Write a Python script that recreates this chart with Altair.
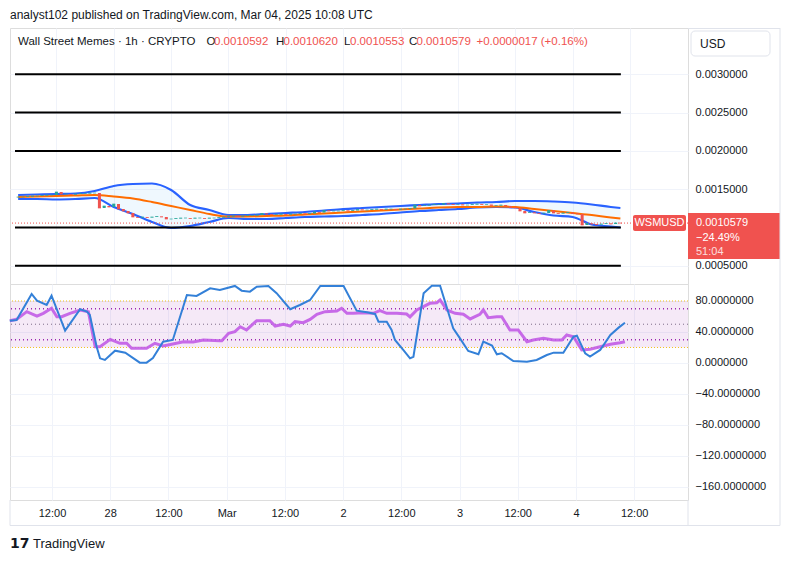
import altair as alt
import pandas as pd

# ---------------- text content ----------------
publisher_line = "analyst102 published on TradingView.com, Mar 04, 2025 10:08 UTC"
symbol_line = "Wall Street Memes · 1h · CRYPTO"
ohlc_labels = ["O", "H", "L", "C"]
ohlc_values = ["0.0010592", "0.0010620", "0.0010553", "0.0010579"]
change_text = "+0.0000017 (+0.16%)"
currency = "USD"
ticker = "WSMUSD"
last_price = 0.0010579
last_price_text = "0.0010579"
change_pct_text = "−24.49%"
countdown_text = "51:04"
footer_text = "TradingView"

# ---------------- price pane data (hours since Feb 27 00:00) ----------------
band_hours = [4, 8, 12, 16, 20, 24, 28, 32, 36, 40, 44, 48, 52, 56, 60, 64, 68, 72, 76, 80,
              84, 88, 92, 96, 100, 104, 108, 112, 116, 120, 124, 128, 130]
bb_upper = [0.0014243, 0.0014308, 0.0014373, 0.0014439, 0.0014765, 0.0015418, 0.0015679, 0.0015744,
            0.0014896, 0.0012937, 0.0012285, 0.0011632, 0.0011632, 0.0011762, 0.0011893, 0.0012024,
            0.0012219, 0.0012415, 0.0012546, 0.0012676, 0.0012807, 0.0012937, 0.0013068, 0.0013133,
            0.0013264, 0.0013329, 0.0013460, 0.0013460, 0.0013394, 0.0013264, 0.0013003, 0.0012676,
            0.0012546]
bb_middle = [0.0013982, 0.0014047, 0.0014112, 0.0014178, 0.0014243, 0.0014047, 0.0013786, 0.0013329,
             0.0012807, 0.0012285, 0.0011762, 0.0011436, 0.0011436, 0.0011501, 0.0011567, 0.0011697,
             0.0011828, 0.0011958, 0.0012089, 0.0012219, 0.0012350, 0.0012480, 0.0012611, 0.0012676,
             0.0012676, 0.0012742, 0.0012676, 0.0012415, 0.0012154, 0.0011893, 0.0011632, 0.0011306,
             0.0011175]
bb_lower = [0.0013721, 0.0013721, 0.0013655, 0.0013721, 0.0013851, 0.0012676, 0.0011762, 0.0010718,
            0.0009935, 0.0010196, 0.0010718, 0.0011240, 0.0011110, 0.0011110, 0.0011240, 0.0011371,
            0.0011436, 0.0011501, 0.0011632, 0.0011762, 0.0011958, 0.0012154, 0.0012285, 0.0012415,
            0.0012611, 0.0012676, 0.0012611, 0.0012024, 0.0011567, 0.0011371, 0.0010392, 0.0010131,
            0.0010000]

first_candle_hour = 4
first_open = 0.0013950
closes = [0.0013982, 0.0013982, 0.0014047, 0.0014112, 0.0014112, 0.0014178, 0.0014243, 0.0014243,
          0.0014635, 0.0014373, 0.0014373, 0.0014308, 0.0014373, 0.0014439, 0.0014439, 0.0014504, 0.0014504,
          0.0012546, 0.0012807, 0.0012676, 0.0013068, 0.0012415, 0.0012154, 0.0011893, 0.0011371,
          0.0011306, 0.0011371, 0.0011306, 0.0011371, 0.0011436, 0.0011371, 0.0011110, 0.0011110,
          0.0011175, 0.0011240, 0.0011240, 0.0011175, 0.0011240, 0.0011240, 0.0011175, 0.0011240,
          0.0011240, 0.0011306, 0.0011371, 0.0011436, 0.0011501, 0.0011436, 0.0011501, 0.0011567,
          0.0011567, 0.0011632, 0.0011828, 0.0011762, 0.0011697, 0.0011697, 0.0011762, 0.0011697,
          0.0011762, 0.0011762, 0.0011828, 0.0011762, 0.0011828, 0.0012024, 0.0011958, 0.0012219,
          0.0012154, 0.0012154, 0.0012154, 0.0012219, 0.0012154, 0.0012219, 0.0012350, 0.0012285,
          0.0012285, 0.0012350, 0.0012415, 0.0012350, 0.0012415, 0.0012415, 0.0012350, 0.0012415,
          0.0012415, 0.0012480, 0.0012937, 0.0012807, 0.0012872, 0.0012937, 0.0013003, 0.0013003,
          0.0013133, 0.0013068, 0.0013003, 0.0013003, 0.0012937, 0.0012937, 0.0013003, 0.0013068,
          0.0013003, 0.0013003, 0.0012872, 0.0012872, 0.0012937, 0.0012807, 0.0012611, 0.0012546,
          0.0012154, 0.0011893, 0.0011958, 0.0011893, 0.0011828, 0.0011893, 0.0012219, 0.0011893,
          0.0011828, 0.0011893, 0.0011958, 0.0011828, 0.0011762, 0.0010326, 0.0010522, 0.0010457,
          0.0010392, 0.0010457, 0.0010522, 0.0010457, 0.0010592, 0.0010579]

drawn_levels = [0.0030, 0.0025, 0.0020, 0.0010, 0.0005]
drawn_levels_end_hour = 130.1

# ---------------- oscillator pane data ----------------
stoch_hours = [3.3, 4.7, 7.8, 8.9, 10.9, 11.9, 14.7, 17.8, 19.2, 19.8, 21.2, 21.9, 22.9, 25.0, 27.1,
               30.1, 31.5, 32.8, 34.9, 36.9, 39.8, 41.8, 44.6, 46.6, 49.7, 51.1, 52.8, 54.2, 56.6,
               58.3, 61.1, 63.1, 65.2, 67.3, 72.1, 74.8, 76.9, 78.6, 79.3, 81.0, 82.0, 82.7, 84.4,
               85.8, 86.5, 88.6, 90.3, 92.0, 94.7, 96.1, 97.8, 99.9, 100.9, 102.7, 103.7, 104.7,
               107.1, 109.9, 111.9, 114.0, 115.4, 117.4, 119.5, 120.2, 121.9, 122.9, 125.0, 127.1,
               128.8, 130.1]
stoch_vals = [54.6, 55.5, 89.0, 80.4, 74.8, 86.8, 41.7, 69.3, 66.2, 62.0, 21.0, 6.0, 3.9, 15.9, 13.3,
              0.4, 0.4, 6.5, 27.5, 29.7, 87.7, 86.5, 96.3, 94.2, 99.4, 93.3, 92.0, 98.5, 99.4,
              90.0, 69.3, 74.8, 81.3, 99.4, 99.4, 67.5, 65.4, 63.2, 53.3, 53.3, 42.6, 29.7, 16.8,
              6.0, 8.0, 90.0, 99.7, 99.7, 44.8, 31.8, 15.5, 11.2, 27.5, 22.4, 11.2, 12.5,
              2.6, 1.7, 3.9, 10.3, 13.3, 13.3, 33.9, 35.2, 12.5, 8.2, 16.8, 36.1,
              45.6, 52.0]
rsi_hours = [3.3, 4.7, 6.8, 8.9, 10.2, 11.9, 13.0, 14.0, 15.7, 17.8, 19.5, 20.9, 21.9, 24.0, 26.0,
             27.4, 28.4, 31.5, 33.2, 34.9, 36.9, 39.1, 41.1, 43.2, 46.6, 47.0, 48.4, 49.7, 50.8,
             52.1, 54.2, 56.9, 58.0, 59.7, 61.1, 62.1, 63.8, 65.2, 66.6, 68.3, 70.7, 71.7, 72.8,
             74.1, 76.2, 78.2, 79.6, 81.0, 83.1, 85.1, 85.8, 87.2, 89.9, 91.3, 92.0, 93.4, 95.1,
             96.8, 98.2, 100.2, 100.9, 101.9, 103.7, 104.7, 106.4, 108.1, 109.9, 111.2, 113.3,
             115.4, 117.1, 118.1, 119.5, 121.2, 122.9, 125.0, 127.1, 129.1, 130.1]
rsi_vals = [54.6, 56.3, 66.2, 60.6, 64.1, 70.6, 59.7, 59.7, 64.1, 68.4, 66.2, 21.0, 21.0, 30.5, 25.4,
            25.4, 18.9, 18.9, 25.4, 21.9, 24.5, 27.5, 27.0, 29.7, 28.8, 28.8, 38.3, 40.4, 46.8,
            42.6, 54.6, 54.6, 47.7, 49.9, 47.7, 53.3, 52.0, 56.3, 62.8, 66.2, 67.1, 70.6, 64.1,
            64.1, 64.9, 64.1, 67.5, 64.1, 64.1, 63.2, 59.5, 68.4, 77.0, 77.8, 81.3, 68.4, 64.1,
            62.8, 56.8, 62.8, 68.4, 58.5, 59.7, 59.7, 42.6, 42.6, 27.5, 29.7, 31.8,
            29.7, 29.7, 36.1, 33.9, 16.8, 17.7, 21.0, 24.1, 26.2, 27.5]
osc_band = [20, 80]
osc_outer_lines = [80, 20]
osc_inner_lines = [70, 30]
osc_mid_line = [50]

# ---------------- axes ----------------
price_ticks = [0.0005, 0.0015, 0.0020, 0.0025, 0.0030]
osc_ticks = [80, 40, 0, -40, -80, -120, -160]
x_tick_hours = [12, 24, 36, 48, 60, 72, 84, 96, 108, 120, 132]
x_tick_labels = ["12:00", "28", "12:00", "Mar", "12:00", "2", "12:00", "3", "12:00", "4", "12:00"]

# ---------------- style ----------------
FONT = "Liberation Sans"
TEXT = "#131722"
GRID = "#f0f3fa"
BORDER = "#e0e3eb"
UP = "#26a69a"
DOWN = "#ef5350"
RED = "#f0524f"
BLUE = "#2962ff"
ORANGE = "#ff6d00"
STOCH = "#3380d8"
RSI = "#c25ce6"

W = 678
H_TOP = 256
H_BOT = 216
X_DOMAIN = [3.34, 143.1]
xs = alt.Scale(domain=X_DOMAIN, nice=False, zero=False)
ys_top = alt.Scale(domain=[0.0002624, 0.0036045], nice=False, zero=False)
ys_bot = alt.Scale(domain=[-176.8, 101.9], nice=False, zero=False)

label_expr = "[" + ",".join("'%s'" % l for l in x_tick_labels) + "][round(datum.value/12) - 1]"

# ---------------- frames ----------------
bands_df = pd.DataFrame({"hour": band_hours, "upper": bb_upper, "middle": bb_middle, "lower": bb_lower})
hours = list(range(first_candle_hour, first_candle_hour + len(closes)))
opens = [first_open] + closes[:-1]
candles_df = pd.DataFrame({"hour": hours, "open": opens, "close": closes})
candles_df["color"] = [UP if c >= o else DOWN for o, c in zip(opens, closes)]
levels_df = pd.DataFrame({"hour": [X_DOMAIN[0]] * len(drawn_levels), "x1": drawn_levels_end_hour,
                          "price": drawn_levels})
stoch_df = pd.DataFrame({"hour": stoch_hours, "v": stoch_vals})
rsi_df = pd.DataFrame({"hour": rsi_hours, "v": rsi_vals})

header_x = [196.5, 266, 334, 399]
value_x = [204, 273.5, 340, 406.5]
hdr_rows = [{"t": symbol_line, "px": 8, "c": TEXT}]
for lab, val, lx, vx in zip(ohlc_labels, ohlc_values, header_x, value_x):
    hdr_rows.append({"t": lab, "px": lx, "c": TEXT})
    hdr_rows.append({"t": val, "px": vx, "c": RED})
hdr_rows.append({"t": change_text, "px": 466.5, "c": RED})
hdr_df = pd.DataFrame(hdr_rows)

one = pd.DataFrame({"a": [0]})

# ---------------- shared axes ----------------
x_axis_top = alt.Axis(values=x_tick_hours, labels=False, ticks=False, domain=False,
                      grid=True, gridColor=GRID, title=None)
y_axis_top = alt.Axis(orient="right", values=price_ticks, format=".7f", ticks=False, domain=False,
                      grid=True, gridColor=GRID, labelPadding=7, title=None,
                      labelFontSize=11, labelColor=TEXT, labelFont=FONT)
x_axis_bot = alt.Axis(values=x_tick_hours, labelExpr=label_expr, ticks=False, domain=False,
                      grid=True, gridColor=GRID, title=None, labelPadding=7,
                      labelFontSize=11, labelColor=TEXT, labelFont=FONT, labelFlush=False)
y_axis_bot = alt.Axis(orient="right", values=osc_ticks, format=".7f", ticks=False, domain=False,
                      grid=True, gridColor=GRID, labelPadding=7, title=None,
                      labelFontSize=11, labelColor=TEXT, labelFont=FONT)


def XT(field="hour"):
    return alt.X(field + ":Q", scale=xs, axis=x_axis_top, title=None)


def YT(field):
    return alt.Y(field + ":Q", scale=ys_top, axis=y_axis_top, title=None)


def XB(field="hour"):
    return alt.X(field + ":Q", scale=xs, axis=x_axis_bot, title=None)


def YB(field):
    return alt.Y(field + ":Q", scale=ys_bot, axis=y_axis_bot, title=None)


def YTD(v):
    return alt.YDatum(v, scale=ys_top, axis=y_axis_top, title=None)


# ---------------- top pane ----------------
fill = alt.Chart(bands_df).mark_area(color="#2196f3", opacity=0.07, interpolate="monotone").encode(
    x=XT(), y=YT("lower"), y2="upper:Q")
up_line = alt.Chart(bands_df).mark_line(color=BLUE, strokeWidth=2.2, interpolate="monotone").encode(
    x=XT(), y=YT("upper"))
lo_line = alt.Chart(bands_df).mark_line(color=BLUE, strokeWidth=2.2, interpolate="monotone").encode(
    x=XT(), y=YT("lower"))
mid_line = alt.Chart(bands_df).mark_line(color=ORANGE, strokeWidth=2, interpolate="monotone").encode(
    x=XT(), y=YT("middle"))
price_dots = alt.Chart(one).mark_rule(color=RED, strokeDash=[1, 2], strokeWidth=1).encode(
    y=YTD(last_price))
bodies = alt.Chart(candles_df).mark_bar(width=3).encode(
    x=XT(), y=YT("open"), y2="close:Q", color=alt.Color("color:N", scale=None))
dashes = alt.Chart(candles_df).mark_tick(orient="horizontal", size=3, thickness=1).encode(
    x=XT(), y=YT("close"), color=alt.Color("color:N", scale=None))
levels = alt.Chart(levels_df).mark_rule(color="#000000", strokeWidth=2).encode(
    x=XT(), x2="x1:Q", y=YT("price"))

tag_rect = alt.Chart(one).mark_rect(color=RED, yOffset=-10, y2Offset=36).encode(
    x=alt.value(678), x2=alt.value(770), y=YTD(last_price), y2=alt.Y2Datum(last_price))
sym_rect = alt.Chart(one).mark_rect(color=RED, yOffset=-8, y2Offset=8, cornerRadius=2).encode(
    x=alt.value(623), x2=alt.value(676), y=YTD(last_price), y2=alt.Y2Datum(last_price))
sym_text = alt.Chart(one).mark_text(color="white", fontSize=11, align="center", baseline="middle").encode(
    x=alt.value(649.5), y=YTD(last_price), text=alt.value(ticker))
tag_t1 = alt.Chart(one).mark_text(color="white", fontSize=11, align="left", baseline="middle").encode(
    x=alt.value(686), y=YTD(last_price), text=alt.value(last_price_text))
tag_t2 = alt.Chart(one).mark_text(color="white", fontSize=11, align="left", baseline="middle", dy=15).encode(
    x=alt.value(686), y=YTD(last_price), text=alt.value(change_pct_text))
tag_t3 = alt.Chart(one).mark_text(color="white", opacity=0.8, fontSize=11, align="left",
                                  baseline="middle", dy=29).encode(
    x=alt.value(686), y=YTD(last_price), text=alt.value(countdown_text))

header = alt.Chart(hdr_df).mark_text(align="left", baseline="middle", fontSize=11.5).encode(
    x=alt.X("px:Q", scale=None), y=alt.value(14), text="t:N", color=alt.Color("c:N", scale=None))
publisher = alt.Chart(one).mark_text(align="left", baseline="middle", fontSize=12, color=TEXT).encode(
    x=alt.value(0), y=alt.value(-13), text=alt.value(publisher_line))
usd_box = alt.Chart(one).mark_rect(fill="white", stroke=BORDER, strokeWidth=1, cornerRadius=4).encode(
    x=alt.value(681), x2=alt.value(760), y=alt.value(3), y2=alt.value(28))
usd_text = alt.Chart(one).mark_text(align="left", baseline="middle", fontSize=12, color=TEXT).encode(
    x=alt.value(690), y=alt.value(16), text=alt.value(currency))
top_frame = alt.Chart(one).mark_rule(color=BORDER, strokeWidth=1).encode(
    x=alt.value(678), x2=alt.value(770), y=alt.value(0.5))
anchor = alt.Chart(one).mark_rule(strokeOpacity=0, strokeWidth=1).encode(
    x=alt.value(-9.5), x2=alt.value(-9.5), y=alt.value(-27.5), y2=alt.value(-26))

top = alt.layer(fill, up_line, lo_line, mid_line, price_dots, bodies, dashes, levels,
                sym_rect, sym_text, tag_rect, tag_t1, tag_t2, tag_t3,
                header, publisher, usd_box, usd_text, top_frame, anchor).properties(width=W, height=H_TOP)

# ---------------- bottom pane ----------------
band_df = pd.DataFrame({"lo": [osc_band[0]], "hi": [osc_band[1]], "hour": [X_DOMAIN[0]], "x1": [X_DOMAIN[1]]})
osc_fill = alt.Chart(band_df).mark_rect(color="#9c27b0", opacity=0.1).encode(
    x=XB(), x2="x1:Q", y=YB("lo"), y2="hi:Q")
outer = alt.Chart(pd.DataFrame({"v": osc_outer_lines})).mark_rule(
    color="#f2c21b", strokeDash=[1, 2], strokeWidth=1).encode(y=YB("v"))
inner = alt.Chart(pd.DataFrame({"v": osc_inner_lines})).mark_rule(
    color="#9c27b0", strokeDash=[1, 3], strokeWidth=1.5).encode(y=YB("v"))
mid = alt.Chart(pd.DataFrame({"v": osc_mid_line})).mark_rule(
    color="#7d6b88", strokeDash=[1, 3], strokeWidth=1).encode(y=YB("v"))
rsi_line = alt.Chart(rsi_df).mark_line(color=RSI, strokeWidth=3, opacity=0.9).encode(x=XB(), y=YB("v"))
stoch_line = alt.Chart(stoch_df).mark_line(color=STOCH, strokeWidth=2).encode(x=XB(), y=YB("v"))

frame_df = pd.DataFrame({
    "x1": [0, 0, 678, 770],
    "x2": [770, 0, 678, 770],
    "y1": [241.5, 216, 216, -256],
    "y2": [241.5, 241.5, 241.5, 241.5],
})
frames = alt.Chart(frame_df).mark_rule(color=BORDER, strokeWidth=1).encode(
    x=alt.X("x1:Q", scale=None), x2="x2:Q", y=alt.Y("y1:Q", scale=None), y2="y2:Q")
logo = alt.Chart(one).mark_text(align="left", baseline="middle", fontSize=14, fontWeight=900,
                                font="DejaVu Sans", color=TEXT).encode(
    x=alt.value(0), y=alt.value(260), text=alt.value("17"))
footer = alt.Chart(one).mark_text(align="left", baseline="middle", fontSize=13, color=TEXT).encode(
    x=alt.value(23), y=alt.value(260), text=alt.value(footer_text))

bottom = alt.layer(osc_fill, outer, inner, mid, rsi_line, stoch_line, frames, logo, footer).properties(
    width=W, height=H_BOT)

chart = alt.VConcatChart(vconcat=[top, bottom], spacing=0, bounds="flush").properties(
    padding=0, autosize=alt.AutoSizeParams(type="pad"), background="white"
).configure_view(stroke=BORDER, strokeWidth=1).configure_text(font=FONT).configure(font=FONT)

chart.save("out.html", embed_options={"renderer": "svg", "actions": False})
